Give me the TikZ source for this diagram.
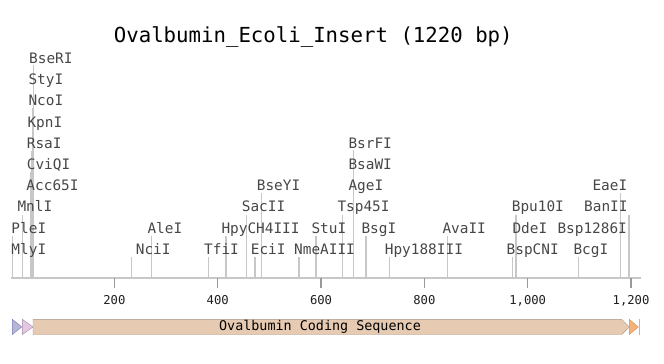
\documentclass[tikz,border=0pt]{standalone}
\usepackage{fontspec}
\setmonofont{DejaVu Sans Mono}
\begin{document}
\begin{tikzpicture}[x=1pt,y=-1pt,
  site/.style={draw=black!22,line width=1.1pt},
  lbl/.style={anchor=base west,inner sep=0pt,text=black!72,font=\ttfamily\fontsize{14.4}{16}\selectfont},
  ticklbl/.style={anchor=base,inner sep=0pt,text=black!88,font=\ttfamily\fontsize{12.2}{14}\selectfont},
  tickmark/.style={draw=black!40,line width=1.3pt},
  axisline/.style={draw=black!22,line width=1.5pt},
  featlbl/.style={inner sep=0pt,text=black,font=\ttfamily\fontsize{13.4}{15}\selectfont}]
\useasboundingbox (0,0) rectangle (664,364);
% title
\node[anchor=base,inner sep=0pt,font=\ttfamily\fontsize{20.7}{24}\selectfont] (title) at (313.3,42.3) {Ovalbumin\_Ecoli\_Insert (1220 bp)};
% site lines
\foreach \x/\t in {12.3/236, 22.3/214.5, 30.5/193, 31/172, 31.6/151, 32.4/129, 33/108, 33.2/87, 33.7/65,
  131.7/257, 151.7/236, 208.3/257, 226/236, 246.7/214.5, 255/257, 261.7/193, 299/257, 316/236,
  342.7/214.5, 353.3/193, 353.3/172, 353.3/150, 366/236, 389.3/257, 447.3/236,
  512.3/257, 516/214.5, 578.3/257, 620.7/193, 629/214.5}
  \draw[site] (\x,278) -- (\x,\t);
% axis
\draw[axisline] (11,278) -- (641,278);
\foreach \v/\s [count=\i] in {200/200,400/400,600/600,800/800,1000/{1,000},1200/{1,200}} {
  \draw[tickmark] ({11+0.5167*\v},278) -- ({11+0.5167*\v},288);
  \node[ticklbl] (tick\i) at ({11+0.5167*\v},304) {\s};
}
% labels
\def\ra{254.2}\def\rb{233.0}\def\rc{211.8}\def\rd{190.6}\def\re{169.4}\def\rf{148.2}\def\rg{127.0}\def\rh{105.8}\def\ri{84.6}\def\rj{63.4}
\node[lbl] (MlyI) at (11.3,\ra) {MlyI};
\node[lbl] (NciI) at (135.7,\ra) {NciI};
\node[lbl] (TfiI) at (204,\ra) {TfiI};
\node[lbl] (EciI) at (250.7,\ra) {EciI};
\node[lbl] (NmeAIII) at (294,\ra) {NmeAIII};
\node[lbl] (Hpy188III) at (384.7,\ra) {Hpy188III};
\node[lbl] (BspCNI) at (506.5,\ra) {BspCNI};
\node[lbl] (BcgI) at (573.3,\ra) {BcgI};
\node[lbl] (PleI) at (11.3,\rb) {PleI};
\node[lbl] (AleI) at (147.3,\rb) {AleI};
\node[lbl] (HpyCH4III) at (221.3,\rb) {HpyCH4III};
\node[lbl] (StuI) at (311.3,\rb) {StuI};
\node[lbl] (BsgI) at (361.3,\rb) {BsgI};
\node[lbl] (AvaII) at (442.3,\rb) {AvaII};
\node[lbl] (DdeI) at (512.3,\rb) {DdeI};
\node[lbl] (Bsp1286I) at (557.3,\rb) {Bsp1286I};
\node[lbl] (MnlI) at (17.3,\rc) {MnlI};
\node[lbl] (SacII) at (241.7,\rc) {SacII};
\node[lbl] (Tsp45I) at (337.3,\rc) {Tsp45I};
\node[lbl] (Bpu10I) at (511.7,\rc) {Bpu10I};
\node[lbl] (BanII) at (584,\rc) {BanII};
\node[lbl] (Acc65I) at (26.3,\rd) {Acc65I};
\node[lbl] (BseYI) at (256.7,\rd) {BseYI};
\node[lbl] (AgeI) at (348.3,\rd) {AgeI};
\node[lbl] (EaeI) at (592.3,\rd) {EaeI};
\node[lbl] (CviQI) at (26.7,\re) {CviQI};
\node[lbl] (BsaWI) at (348.3,\re) {BsaWI};
\node[lbl] (RsaI) at (26.7,\rf) {RsaI};
\node[lbl] (BsrFI) at (348.3,\rf) {BsrFI};
\node[lbl] (KpnI) at (27.3,\rg) {KpnI};
\node[lbl] (NcoI) at (28.3,\rh) {NcoI};
\node[lbl] (StyI) at (28.3,\ri) {StyI};
\node[lbl] (BseRI) at (29,\rj) {BseRI};
% features
\filldraw[fill=blue!25!gray!45!white,draw=blue!30!gray!80] (12.3,319.3) -- (21.8,327) -- (12.3,334.5) -- cycle;
\filldraw[fill=violet!22!white,draw=violet!35!gray!70] (22.3,319.3) -- (33,327) -- (22.3,334.5) -- cycle;
\filldraw[fill={rgb,255:red,230;green,202;blue,178},draw={rgb,255:red,170;green,150;blue,135}] (33,319.3) -- (621.7,319.3) -- (629.3,327) -- (621.7,334.5) -- (33,334.5) -- cycle;
\filldraw[fill={rgb,255:red,245;green,178;blue,120},draw={rgb,255:red,210;green,145;blue,95}] (629.3,319.3) -- (638.3,327) -- (629.3,334.5) -- cycle;
\draw[draw={rgb,255:red,200;green,192;blue,112},line width=1pt] (639.5,319.3) -- (639.5,334.5);
\node[featlbl] (cds) at (320,327) {Ovalbumin Coding Sequence};
\end{tikzpicture}
\end{document}
